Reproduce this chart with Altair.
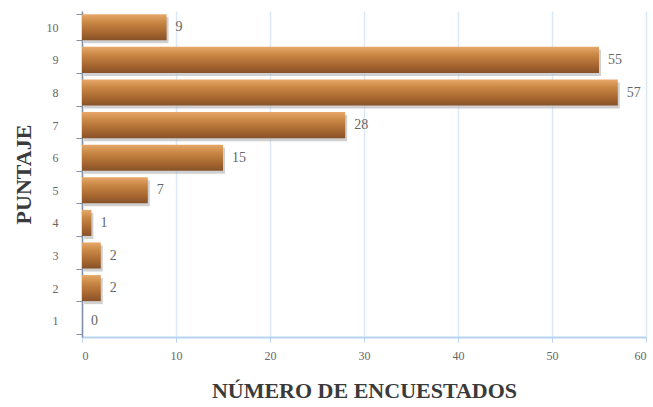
import altair as alt
import pandas as pd

puntaje = ["10", "9", "8", "7", "6", "5", "4", "3", "2", "1"]
encuestados = [9, 55, 57, 28, 15, 7, 1, 2, 2, 0]

df = pd.DataFrame({"puntaje": puntaje, "n": encuestados})

serif = "Liberation Serif"

y_enc = alt.Y("puntaje:N", sort=puntaje,
              scale=alt.Scale(paddingInner=0.2, paddingOuter=0.1),
              axis=alt.Axis(title="PUNTAJE", titleFont=serif, titleFontSize=22,
                            titleFontWeight="bold", titleColor="#3a3a3a", titlePadding=11,
                            labelFont=serif, labelFontSize=12, labelColor="#666666",
                            labelPadding=18, tickBand="extent", tickColor="#8090a8",
                            tickSize=6, domainColor="#8090a8", domainWidth=1.5))
x_enc = alt.X("n:Q", scale=alt.Scale(domain=[0, 60], nice=False),
              axis=alt.Axis(values=[0, 10, 20, 30, 40, 50, 60], title="NÚMERO DE ENCUESTADOS",
                            titleFont=serif, titleFontSize=22, titleFontWeight="bold",
                            titleColor="#3a3a3a", titlePadding=19,
                            labelFont=serif, labelFontSize=12, labelColor="#666666",
                            labelPadding=8, gridColor="#dbe8f6", gridWidth=1.5,
                            domainColor="#b8d4f0", domainWidth=2, tickColor="#b8d4f0",
                            tickSize=5))

base = alt.Chart(df)

shadow = base.mark_bar(color="#b0b0b0", opacity=0.6, xOffset=2, yOffset=3).encode(
    y=y_enc, x=x_enc)

grad = alt.Gradient(gradient="linear", x1=0, x2=0, y1=0, y2=1,
                    stops=[alt.GradientStop(color="#e7a86a", offset=0),
                           alt.GradientStop(color="#c98845", offset=0.3),
                           alt.GradientStop(color="#a8672f", offset=0.7),
                           alt.GradientStop(color="#86522a", offset=1)])
bars = base.mark_bar(color=grad).encode(y=y_enc, x=x_enc)

labels = base.mark_text(align="left", dx=9, font=serif, fontSize=14, color="#666666").encode(
    y=alt.Y("puntaje:N", sort=puntaje), x="n:Q", text="n:Q")

chart = alt.layer(shadow, bars, labels).properties(
    width=564, height=326,
    autosize=alt.AutoSizeParams(type="none"),
    padding={"left": 82, "top": 11, "right": 7, "bottom": 70},
).configure_view(stroke=None)

chart.save("out.html", embed_options={"renderer": "svg", "actions": False})
